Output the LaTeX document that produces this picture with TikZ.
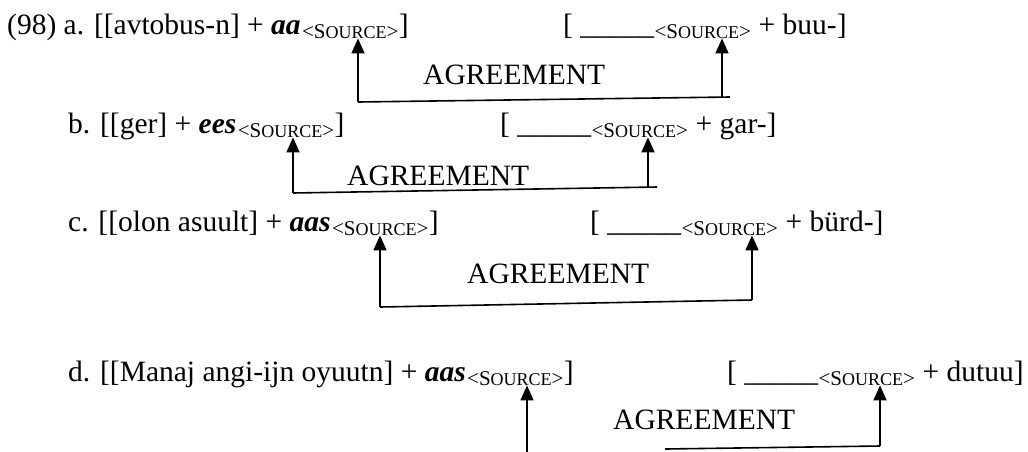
\documentclass[tikz,border=0pt]{standalone}
\usepackage{fontspec}
\setmainfont{Liberation Serif}
\usetikzlibrary{arrows.meta, positioning, calc}

\newcommand{\srctag}{<S{\fontsize{18}{18}\selectfont OURCE}>}

\begin{document}
\begin{tikzpicture}[
		x=1pt, y=-1pt,
		txt/.style={inner sep=0pt, anchor=base west, font=\fontsize{29.5}{34}\selectfont},
		src/.style={inner sep=0pt, font=\fontsize{21}{21}\selectfont, yshift=-4pt},
		agr/.style={line width=1.6pt},
		tip/.style={agr, -{Triangle[width=13pt,length=15pt]}}
	]
	\useasboundingbox (0,0) rectangle (1028,451);

	% (a)
	\node[txt] (a1) at (7,34) {(98) a. [[avtobus-n] + \textbf{\textit{aa}}};
	\node[src, right=1pt of a1.base east, anchor=base west] (a1src) {\srctag};
	\node[txt] (a1end) at (a1src.base east |- a1.base) {]};
	\node[txt] (a2) at (563,34) {[ \_\_\_\_\_};
	\node[src, right=0pt of a2.base east, anchor=base west] (a2src) {\srctag};
	\node[txt] (a2end) at (a2src.base east |- a2.base) {\ + buu-]};
	\node[txt] (agra) at (423,84) {AGREEMENT};

	\coordinate (a1c) at (358,102);
	\coordinate (a2c) at (722,97.2);
	\coordinate (a2e) at (730,97);
	\draw[tip] (a1c) -- (a1c |- a1src.south);
	\draw[agr] (a1c) -- (a2e);
	\draw[tip] (a2c) -- (a2c |- a2src.south);

	% (b)
	\node[txt] (b1) at (68,133) {b. [[ger] + \textbf{\textit{ees}}};
	\node[src, right=1pt of b1.base east, anchor=base west] (b1src) {\srctag};
	\node[txt] (b1end) at (b1src.base east |- b1.base) {]};
	\node[txt] (b2) at (500,133) {[ \_\_\_\_\_};
	\node[src, right=0pt of b2.base east, anchor=base west] (b2src) {\srctag};
	\node[txt] (b2end) at (b2src.base east |- b2.base) {\ + gar-]};
	\node[txt] (agrb) at (347,185) {AGREEMENT};

	\coordinate (b1c) at (293,193);
	\coordinate (b2c) at (648,187.2);
	\coordinate (b2e) at (657,187);
	\draw[tip] (b1c) -- (b1c |- b1src.south);
	\draw[agr] (b1c) -- (b2e);
	\draw[tip] (b2c) -- (b2c |- b2src.south);

	% (c)
	\node[txt] (c1) at (68,231) {c. [[olon asuult] + \textbf{\textit{aas}}};
	\node[src, right=1pt of c1.base east, anchor=base west] (c1src) {\srctag};
	\node[txt] (c1end) at (c1src.base east |- c1.base) {]};
	\node[txt] (c2) at (590,231) {[ \_\_\_\_\_};
	\node[src, right=0pt of c2.base east, anchor=base west] (c2src) {\srctag};
	\node[txt] (c2end) at (c2src.base east |- c2.base) {\ + bürd-]};
	\node[txt] (agrc) at (467,283) {AGREEMENT};

	\coordinate (c1c) at (380,307);
	\coordinate (c2c) at (752,300);
	\draw[tip] (c1c) -- (c1c |- c1src.south);
	\draw[agr] (c1c) -- (c2c);
	\draw[tip] (c2c) -- (c2c |- c2src.south);

	% (d)
	\node[txt] (d1) at (68,381) {d. [[Manaj angi-ijn oyuutn] + \textbf{\textit{aas}}};
	\node[src, right=1pt of d1.base east, anchor=base west] (d1src) {\srctag};
	\node[txt] (d1end) at (d1src.base east |- d1.base) {]};
	\node[txt] (d2) at (727,381) {[ \_\_\_\_\_};
	\node[src, right=0pt of d2.base east, anchor=base west] (d2src) {\srctag};
	\node[txt] (d2end) at (d2src.base east |- d2.base) {\ + dutuu]};
	\node[txt] (agrd) at (613,429) {AGREEMENT};

	\coordinate (d1c) at (527,452);
	\coordinate (d3c) at (665,449);
	\coordinate (d2c) at (880,446);
	\draw[tip] (d1c) -- (d1c |- d1src.south);
	\draw[agr] (d3c) -- (d2c);
	\draw[tip] (d2c) -- (d2c |- d2src.south);
\end{tikzpicture}
\end{document}
